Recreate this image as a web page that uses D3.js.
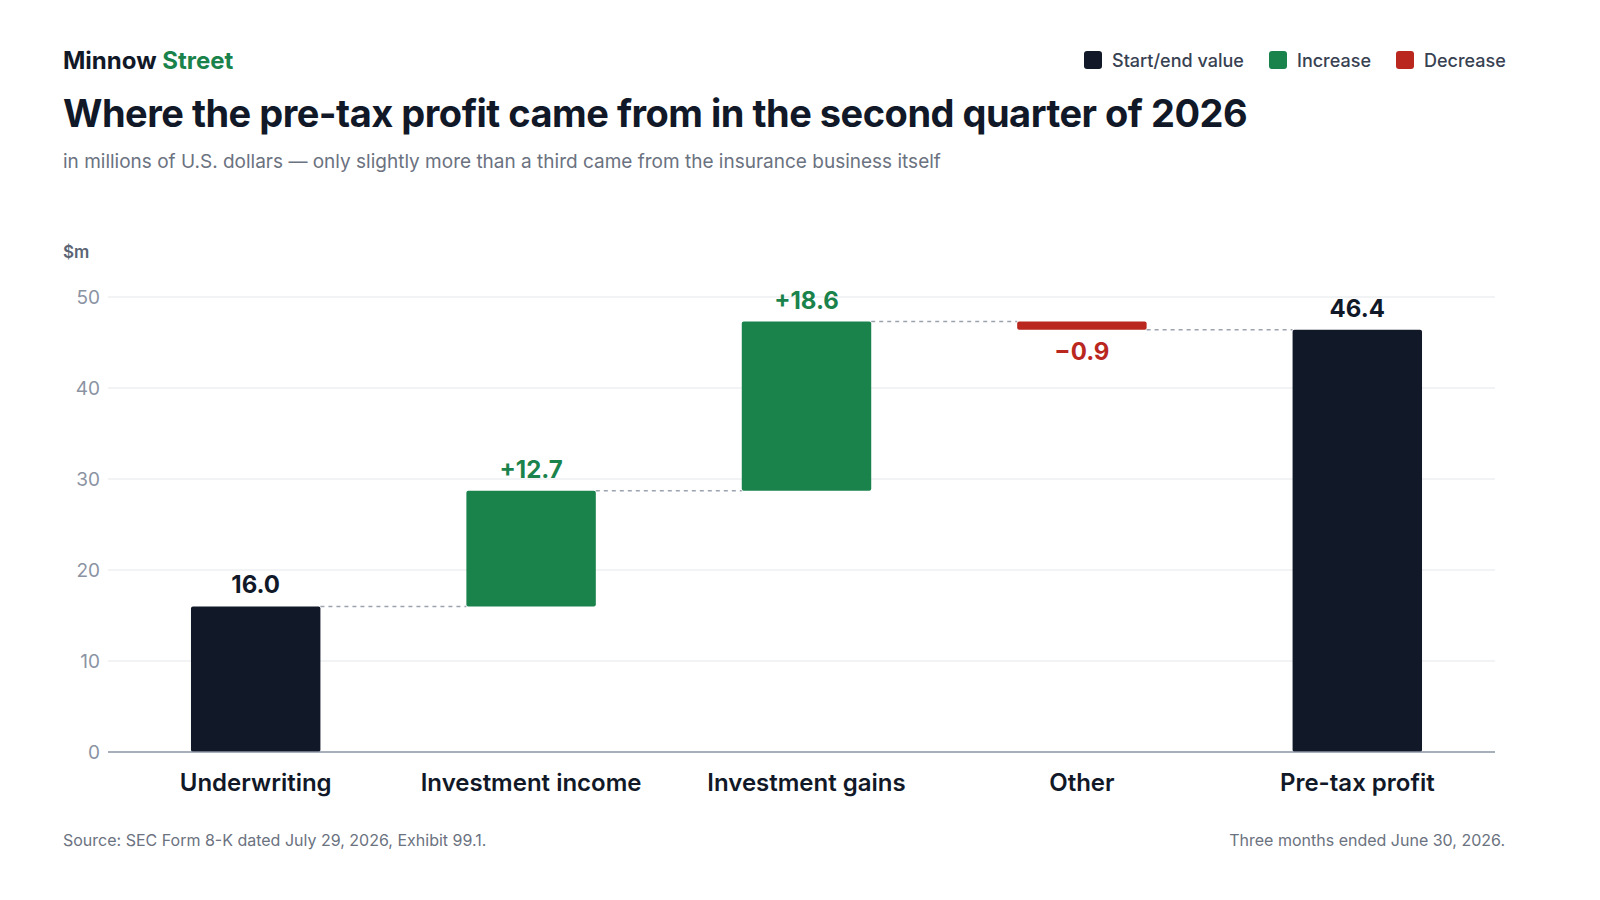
<!DOCTYPE html>
<html><head><meta charset="utf-8">
<script src="https://cdn.jsdelivr.net/npm/d3@7"></script>
<style>html,body{margin:0;overflow:hidden;background:#fff;font-family:Inter,"Noto Sans",sans-serif}svg{display:block}</style>
</head><body>
<svg id="c" width="1600" height="900"></svg>
<script>
// data
const categories = ["Underwriting", "Investment income", "Investment gains", "Other", "Pre-tax profit"];
const changes = [16.0, 12.7, 18.6, -0.9, 46.4];
const kinds = ["total", "delta", "delta", "delta", "total"];
const yTicks = [0, 10, 20, 30, 40, 50];

const colors = { total: "#111827", up: "#1a834c", down: "#b9271e" };
const svg = d3.select("#c");

// running totals
let run = 0;
const bars = categories.map((c, i) => {
  let y0, y1;
  if (kinds[i] === "total") { y0 = 0; y1 = changes[i]; run = changes[i]; }
  else { y0 = run; y1 = run + changes[i]; run = y1; }
  return { c, v: changes[i], kind: kinds[i], y0, y1 };
});

const x = d3.scaleBand().domain(categories).range([118, 1495]).paddingInner(0.53).paddingOuter(0.265);
const y = d3.scaleLinear().domain([0, 50]).range([752, 297]);

// grid
svg.append("g").selectAll("line").data(yTicks.slice(1)).join("line")
  .attr("x1", 108).attr("x2", 1495).attr("y1", d => y(d)).attr("y2", d => y(d))
  .attr("stroke", "#e5e7eb");
svg.append("g").selectAll("text").data(yTicks).join("text")
  .attr("x", 100).attr("y", d => y(d) + 7).attr("text-anchor", "end")
  .attr("font-size", 19).attr("fill", "#8b93a3").text(d => d);
svg.append("text").attr("x", 63).attr("y", 258).attr("font-size", 17).attr("font-weight", 600)
  .attr("fill", "#5b6474").text("$m");

// connectors
bars.slice(0, -1).forEach((b, i) => {
  svg.append("line")
    .attr("x1", x(b.c) + x.bandwidth()).attr("x2", x(categories[i + 1]))
    .attr("y1", y(b.y1)).attr("y2", y(b.y1))
    .attr("stroke", "#9ca3af").attr("stroke-width", 1.5).attr("stroke-dasharray", "4,4");
});

// bars
svg.append("g").selectAll("rect").data(bars).join("rect")
  .attr("x", d => x(d.c)).attr("width", x.bandwidth())
  .attr("y", d => y(Math.max(d.y0, d.y1)))
  .attr("height", d => Math.abs(y(d.y0) - y(d.y1)))
  .attr("rx", 2)
  .attr("fill", d => d.kind === "total" ? colors.total : (d.v >= 0 ? colors.up : colors.down));

// value labels
svg.append("g").selectAll("text").data(bars).join("text")
  .attr("x", d => x(d.c) + x.bandwidth() / 2)
  .attr("y", d => d.v < 0 ? y(Math.min(d.y0, d.y1)) + 30 : y(Math.max(d.y0, d.y1)) - 13)
  .attr("text-anchor", "middle").attr("font-size", 24).attr("font-weight", 700)
  .attr("fill", d => d.kind === "total" ? colors.total : (d.v >= 0 ? colors.up : colors.down))
  .text(d => d.kind === "total" ? d.v.toFixed(1) : (d.v >= 0 ? "+" + d.v.toFixed(1) : "\u2212" + Math.abs(d.v).toFixed(1)));

// axis baseline + category labels
svg.append("line").attr("x1", 108).attr("x2", 1495).attr("y1", y(0)).attr("y2", y(0))
  .attr("stroke", "#8b93a3").attr("stroke-width", 1.5);
svg.append("g").selectAll("text").data(categories).join("text")
  .attr("x", d => x(d) + x.bandwidth() / 2).attr("y", 791).attr("text-anchor", "middle")
  .attr("font-size", 24).attr("font-weight", 600).attr("fill", "#111827").text(d => d);

// header
const brand = svg.append("text").attr("x", 63).attr("y", 69).attr("font-size", 24).attr("font-weight", 700);
brand.append("tspan").attr("fill", "#111827").text("Minnow ");
brand.append("tspan").attr("fill", "#1a834c").text("Street");
svg.append("text").attr("x", 63).attr("y", 127).attr("font-size", 38).attr("font-weight", 700)
  .attr("fill", "#111827").attr("letter-spacing", -0.5)
  .text("Where the pre-tax profit came from in the second quarter of 2026");
svg.append("text").attr("x", 63).attr("y", 168).attr("font-size", 19).attr("fill", "#6b7280")
  .text("in millions of U.S. dollars \u2014 only slightly more than a third came from the insurance business itself");

// legend
const legend = [["Start/end value", colors.total, 1084], ["Increase", colors.up, 1269], ["Decrease", colors.down, 1396]];
legend.forEach(([t, col, lx]) => {
  svg.append("rect").attr("x", lx).attr("y", 51).attr("width", 18).attr("height", 18).attr("rx", 3).attr("fill", col);
  svg.append("text").attr("x", lx + 28).attr("y", 67).attr("font-size", 18).attr("font-weight", 500)
    .attr("fill", "#374151").text(t);
});

// footer
svg.append("text").attr("x", 63).attr("y", 846).attr("font-size", 16).attr("fill", "#6b7280")
  .text("Source: SEC Form 8-K dated July 29, 2026, Exhibit 99.1.");
svg.append("text").attr("x", 1505).attr("y", 846).attr("text-anchor", "end").attr("font-size", 16).attr("fill", "#6b7280")
  .text("Three months ended June 30, 2026.");
</script>
</body></html>
